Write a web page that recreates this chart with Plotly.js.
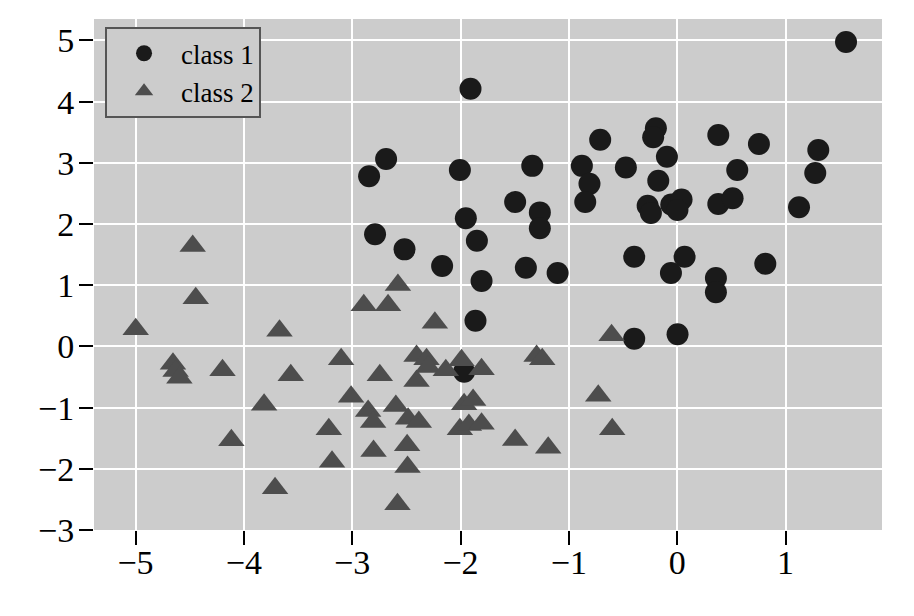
<!DOCTYPE html>
<html>
<head>
<meta charset="utf-8">
<script src="https://cdn.plot.ly/plotly-3.0.1.min.js"></script>
<style>html,body{margin:0;padding:0;background:#fff;}#chart{width:914px;height:616px;}</style>
</head>
<body>
<div id="chart"></div>
<script>
var class1X = [1.558, -1.908, -2.687, -2.844, -2.006, -1.338, -1.496, -1.268, -1.268, -1.951,
  -0.711, -0.880, -0.810, -0.849, -0.197, -0.222, 0.379, 0.754, -0.095, -0.474,
  -0.175, 0.554, 1.302, 1.274, 1.124, -0.273, -0.243, -0.055, 0.040, 0.002,
  0.379, 0.511, -0.397, 0.068, -0.058, 0.357, 0.357, 0.813, -0.397, 0.003,
  -2.789, -2.517, -2.170, -1.849, -1.806, -1.397, -1.104, -1.862, -1.967];
var class1Y = [4.974, 4.211, 3.062, 2.779, 2.882, 2.950, 2.359, 2.190, 1.930, 2.093,
  3.378, 2.950, 2.656, 2.359, 3.564, 3.417, 3.454, 3.307, 3.100, 2.923,
  2.708, 2.882, 3.209, 2.833, 2.273, 2.299, 2.180, 2.318, 2.400, 2.229,
  2.327, 2.420, 1.466, 1.466, 1.199, 1.118, 0.884, 1.351, 0.126, 0.198,
  1.832, 1.586, 1.314, 1.727, 1.069, 1.286, 1.199, 0.420, -0.413];

var class2X = [-4.998, -4.472, -4.444, -4.654, -4.630, -4.595, -4.197, -4.115, -3.813, -3.712,
  -3.671, -3.567, -3.216, -3.186, -3.102, -3.010, -2.893, -2.853, -2.807, -2.803,
  -2.745, -2.669, -2.597, -2.582, -2.578, -2.493, -2.489, -2.484, -2.406, -2.406,
  -2.385, -2.314, -2.300, -2.237, -2.136, -2.006, -1.991, -1.967, -1.923, -1.884,
  -1.806, -1.806, -1.496, -1.298, -1.246, -1.191, -0.729, -0.606, -0.600];
var class2Y = [0.279, 1.641, 0.786, -0.283, -0.400, -0.511, -0.391, -1.535, -0.952, -2.319,
  0.257, -0.473, -1.355, -1.884, -0.211, -0.822, 0.671, -1.056, -1.235, -1.709,
  -0.473, 0.671, -0.974, -2.580, 1.003, -1.616, -1.971, -1.181, -0.157, -0.565,
  -1.235, -0.211, -0.336, 0.388, -0.391, -1.355, -0.227, -0.946, -1.284, -0.876,
  -0.374, -1.263, -1.529, -0.157, -0.211, -1.655, -0.805, 0.181, -1.355];

var seriesNames = ['class 1', 'class 2'];
var xTicks = [-5, -4, -3, -2, -1, 0, 1];
var yTicks = [-3, -2, -1, 0, 1, 2, 3, 4, 5];

var serif = 'Liberation Serif, Times New Roman, serif';

function fmt(v) { return v < 0 ? '\u2212' + Math.abs(v) : String(v); }

var traces = [
  {
    type: 'scatter', mode: 'markers', name: seriesNames[0],
    x: class1X, y: class1Y,
    marker: {symbol: 'circle', size: 22, color: '#1a1a1a', line: {width: 0}}
  },
  {
    type: 'scatter', mode: 'markers', name: seriesNames[1],
    x: class2X, y: class2Y,
    marker: {symbol: 'triangle-up', size: 23, color: '#4d4d4d', line: {width: 0}}
  }
];

var axisCommon = {
  showgrid: true, gridcolor: '#ffffff', gridwidth: 2,
  zeroline: false, showline: false,
  ticks: 'outside', ticklen: 14, tickwidth: 2, tickcolor: '#000000',
  tickfont: {family: serif, size: 34, color: '#000000'},
  tickmode: 'array'
};

var layout = {
  width: 914, height: 616,
  margin: {l: 94, r: 32, t: 19, b: 86},
  paper_bgcolor: '#ffffff',
  plot_bgcolor: '#cccccc',
  showlegend: true,
  xaxis: Object.assign({}, axisCommon, {range: [-5.383, 1.89], tickvals: xTicks, ticktext: xTicks.map(fmt), ticklabelstandoff: -12}),
  yaxis: Object.assign({}, axisCommon, {range: [-3, 5.35], tickvals: yTicks, ticktext: yTicks.map(fmt), ticklabelstandoff: -2}),
  legend: {
    x: 0.014, y: 0.984, xanchor: 'left', yanchor: 'top',
    bgcolor: '#cccccc', bordercolor: '#555555', borderwidth: 2,
    itemwidth: 64,
    font: {family: serif, size: 27, color: '#000000'}
  }
};

Plotly.newPlot('chart', traces, layout, {displayModeBar: false, staticPlot: true});
</script>
</body>
</html>
